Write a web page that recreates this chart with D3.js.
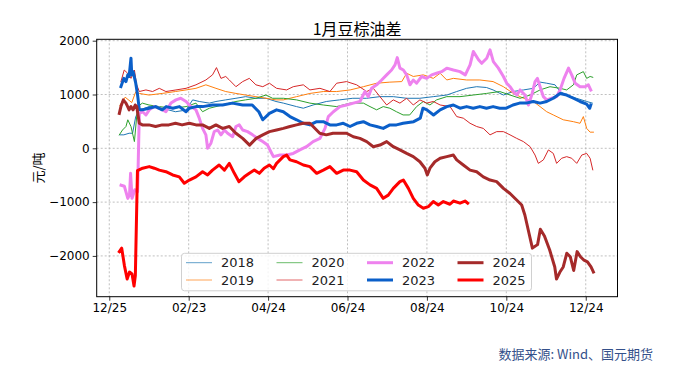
<!DOCTYPE html>
<html>
<head>
<meta charset="utf-8">
<script src="https://cdn.jsdelivr.net/npm/d3@7"></script>
<style>
  body { margin: 0; background: #fff; }
  text { font-family: "DejaVu Sans", sans-serif; }
  .cjk { font-family: "Noto Sans CJK SC", sans-serif; }
</style>
</head>
<body>
<div id="chart"></div>
<script>
// x = days after 12/25, y = spread (元/吨)
var tickDays = [0, 60, 120, 180, 240, 300, 360]
var tickLabels = ["12/25", "02/23", "04/24", "06/24", "08/24", "10/24", "12/24"]
var yTicks = [-2000, -1000, 0, 1000, 2000]

var s2018 = [[8,250],[11,250],[15,280],[17.6,280],[20,590],[22.7,710],[30,775],[40,745],[50,680],[58,710],[63,900],[68,870],[75.6,840],[80.6,870],[88,900],[95.7,930],[103,960],[110.8,930],[118.4,930],[126,870],[131.5,840],[141.5,775],[146.6,745],[154,805],[164,870],[174,900],[184,930],[194.5,930],[204.5,960],[214.6,960],[224.7,930],[234.7,930],[244.8,960],[255,990],[262.5,1055],[270,1115],[277.6,1145],[285,1130],[290,1085],[297.8,990],[305,1055],[313,1085],[320.4,1115],[325.5,1230],[330.5,1210],[336.8,1180],[340.6,1055],[345.6,990],[353,930],[360.7,870],[365,840]]
var s2019 = [[8,800],[12,950],[17,850],[20,1050],[22.7,1020],[30,990],[40,1020],[50,1055],[58,1085],[65.5,1115],[73,1180],[80.6,1115],[88,1055],[95.7,1020],[103,990],[110.8,960],[118.4,930],[126,900],[131.5,900],[141.5,960],[151.6,1020],[161.7,1055],[171.8,1055],[182,1085],[192,1145],[202,1210],[212,1230],[221,1240],[224.7,1395],[229.7,1335],[237.3,1365],[244.8,1300],[250,1395],[255,1270],[260,1300],[270,1270],[280,1270],[290,1240],[297.8,1145],[305.3,1020],[313,930],[320.4,870],[325.5,775],[330.5,680],[335.5,620],[343,530],[350.7,495],[355.7,465],[358.2,590],[360.7,370],[363.3,300],[365.8,300]]
var s2020 = [[7.6,250],[10,340],[12.6,405],[14,530],[16.4,405],[19,125],[21.4,775],[25,840],[30,805],[37.8,775],[48,745],[58,775],[65.5,840],[70.5,680],[75.6,745],[80.6,775],[85.6,805],[90.7,840],[95.7,870],[103,900],[110.8,930],[118.4,990],[123.4,930],[131.5,930],[141.5,900],[151.6,840],[161.7,805],[171.8,775],[182,840],[192,840],[197,775],[202,715],[207,775],[212,745],[217,680],[222,620],[227,620],[232.2,775],[237.3,870],[242.3,805],[247.3,900],[255,960],[265,960],[275,990],[285,1020],[295,1055],[302.8,990],[310.4,930],[318,990],[325.5,1085],[333,1145],[340.6,1115],[345.6,1085],[350.7,1180],[353.2,1365],[355.7,1395],[358.2,1425],[360.7,1300],[363.3,1335],[365.3,1320]]
var s2021 = [[8.8,1240],[11.3,1455],[13.9,1395],[16.4,1300],[19,1455],[20.7,1180],[22.7,1055],[27.7,1085],[32.7,1055],[37.8,1115],[42.8,1055],[50.4,1085],[58,1115],[65.5,1180],[73,1270],[78,1365],[81,1500],[84.4,1300],[88,1335],[90.7,1270],[95.7,1145],[100.8,1240],[105.8,1300],[110.8,1180],[116,1145],[121,1210],[126.4,1115],[134,1085],[139,1145],[146.6,1180],[151.6,1085],[159.2,1115],[166.7,1055],[171.8,1210],[179.3,1240],[186.9,1180],[194.5,1055],[199.5,1115],[204.5,960],[209.6,805],[214.6,900],[219.6,840],[224.7,930],[229.7,805],[234.7,900],[239.8,840],[244.8,870],[250,805],[257.5,775],[262.5,590],[267.5,560],[272.6,465],[277.6,405],[282.6,370],[287.7,250],[292.7,310],[297.8,310],[302.8,250],[307.8,185],[312.9,125],[318,30],[321.7,-125],[324.2,-280],[328,-215],[331.8,-30],[335.5,-95],[338,-280],[341.8,-185],[345.6,-155],[349.4,-185],[353.2,-280],[357,-125],[360.7,-95],[363.3,-185],[365.3,-400]]
var s2022 = [[8.9,-685],[11.4,-705],[14,-930],[15.3,-865],[16.1,-465],[17.2,-930],[19.3,-770],[21.4,-805],[22.7,650],[25.2,680],[27.7,620],[30.2,715],[34,775],[37.8,745],[42.8,680],[46.6,840],[50.4,900],[54,930],[58,870],[61.7,775],[65.5,715],[68,560],[70.5,370],[73,250],[74.3,0],[76.8,95],[79.3,310],[81.9,340],[84.4,250],[87,340],[89.4,280],[93.2,215],[95.7,405],[98.2,435],[100.8,340],[104.5,310],[108.3,250],[112,185],[115.9,125],[119.6,60],[122,-60],[124,-155],[129,-125],[134,-125],[139,-95],[144,-30],[149,30],[154,125],[159.2,185],[163,370],[165.5,590],[169.3,680],[174.3,775],[179.3,805],[184.4,840],[189.4,870],[193.2,1055],[195.7,960],[198.2,1115],[202,1180],[205.8,1270],[209.6,1365],[213.3,1455],[215.9,1550],[217.6,1685],[219.6,1490],[222.2,1455],[224.7,1365],[227.2,1180],[229.7,1270],[232.2,1210],[236,1335],[239.8,1300],[243.6,1365],[247.3,1395],[251.1,1425],[255,1490],[260,1455],[265,1425],[269,1365],[272.6,1550],[275.1,1800],[279,1645],[281.4,1580],[285.2,1675],[287.7,1830],[290.2,1610],[294,1490],[297.8,1335],[300.3,1210],[302.8,1145],[305.3,1055],[308,990],[310.4,1085],[314.1,990],[316.7,805],[319.2,990],[321.7,1240],[323.5,1300],[325.5,1145],[328,960],[330.5,900],[334.3,930],[338,960],[340.6,1085],[343.6,1300],[347,1490],[349.4,1365],[352,1210],[355.7,1145],[359.5,1145],[362,1180],[363.8,1085]]
var s2023 = [[8.8,1145],[11,1300],[12.6,1240],[14,1365],[15,1335],[16.4,1675],[17,1365],[18,1425],[20,1210],[21.4,990],[22.7,715],[25,715],[30,745],[35,775],[40,715],[43,775],[48,745],[53,775],[58,680],[60.5,745],[65.5,775],[70.5,775],[78,805],[85.6,805],[93,840],[100.8,805],[108,805],[113,680],[116,530],[121,650],[126.4,715],[131.5,680],[136.5,590],[141.5,530],[146.6,465],[151.6,435],[156.7,495],[161.7,495],[166.7,435],[171.8,435],[176.8,465],[181.9,405],[186.9,465],[192,495],[197,435],[202,405],[207,370],[212,435],[217,435],[222,465],[230,495],[235,560],[237,745],[240,715],[245,620],[250,715],[255,775],[260,805],[265,745],[270,775],[275,745],[280,775],[285,745],[290,775],[295,745],[300,745],[305,805],[310,840],[315,840],[320.4,870],[325.5,840],[330.5,870],[335.5,930],[340.6,1020],[345.6,990],[350.7,930],[355.7,870],[360.7,820],[363,745],[363.8,805]]
var s2024 = [[7.6,650],[8.8,775],[10.6,900],[12.6,840],[13.9,775],[15,715],[16.4,775],[18,715],[19.6,805],[20.7,780],[22.7,465],[25,435],[30,435],[35,405],[40,435],[45,435],[50,465],[55,435],[60.5,465],[65.5,435],[70.5,435],[75.6,370],[80.6,435],[85.6,370],[90.7,405],[95.7,280],[100.8,185],[106,60],[111,185],[116,250],[121,310],[126.4,340],[131.5,370],[136.5,405],[141.5,435],[146.6,465],[151.6,465],[154,405],[159,280],[164,250],[169,280],[174,280],[179.3,280],[184.4,215],[189.4,185],[194.5,125],[199.5,30],[204.5,60],[209.6,125],[214.6,30],[219.6,-30],[224.7,-95],[229.7,-155],[234.7,-250],[238.5,-370],[240.3,-495],[242.3,-370],[246,-250],[250,-185],[255,-155],[260,-125],[262.5,-215],[267.5,-310],[272.6,-405],[277.6,-435],[282.6,-530],[287.7,-590],[292.7,-620],[297.8,-745],[302.8,-840],[307.8,-960],[311.6,-1055],[314,-1240],[317,-1565],[319.7,-1855],[323.6,-1790],[325.7,-1505],[328.8,-1630],[332.7,-1885],[336.6,-2205],[337.9,-2430],[340.5,-2300],[343,-2205],[345.7,-1950],[348.3,-2015],[350.9,-2270],[353.5,-1920],[356,-2015],[358.7,-2080],[361.3,-2110],[364,-2205],[365.8,-2300]]
var s2025 = [[7.6,-1920],[9.4,-1855],[11.4,-2175],[13.5,-2430],[15.3,-2300],[17.2,-2335],[18.7,-2560],[19.7,-2365],[21.3,-415],[25.2,-370],[30.2,-340],[34,-370],[37.8,-405],[42.8,-435],[47.9,-495],[52.9,-530],[56.7,-650],[60.5,-590],[65.5,-530],[70.5,-435],[74.3,-495],[78,-405],[83,-310],[87,-405],[90.7,-280],[94.5,-465],[98,-620],[102,-530],[105.8,-465],[109.6,-405],[113.4,-465],[117,-370],[121,-310],[124,-380],[126.4,-280],[131.5,-155],[134,-125],[136.5,-215],[141.5,-250],[146.6,-310],[151.6,-340],[156.7,-465],[161.7,-405],[166.7,-340],[171.8,-465],[176.8,-405],[181.9,-405],[186.9,-435],[192,-590],[197,-680],[202,-745],[207,-930],[210.8,-870],[214.6,-745],[219.6,-620],[222.2,-590],[226,-745],[229.7,-930],[233.5,-1055],[237.3,-1115],[241,-1085],[244.8,-990],[248.6,-1055],[252.4,-990],[257.4,-1040],[260,-980],[265,-1020],[268.8,-980],[270.8,-1020]]

var years = ["2018", "2019", "2020", "2021", "2022", "2023", "2024", "2025"]
var seriesData = [s2018, s2019, s2020, s2021, s2022, s2023, s2024, s2025]
var colors = ["#1f77b4", "#ff7f0e", "#2ca02c", "#d62728", "#ee82ee", "#0b5fc9", "#a52a2a", "#ff0000"]
var widths = [1, 1, 1, 1, 3, 3, 3, 3]

var W = 684, H = 385
var margin = {top: 39.3, right: 66.5, bottom: 88.3, left: 96.7}
var width = W - margin.left - margin.right,
    height = H - margin.top - margin.bottom

var svg = d3.select("#chart").append("svg")
    .attr("width", W).attr("height", H)

var g = svg.append("g")
    .attr("transform", "translate(" + margin.left + "," + margin.top + ")")

var x = d3.scaleLinear().domain([-9.5, 384]).range([0, width])
var y = d3.scaleLinear().domain([-2758, 2026]).range([height, 0])

// grid
g.append("g").selectAll("line").data(tickDays).enter().append("line")
  .attr("x1", function(d) { return x(d) }).attr("x2", function(d) { return x(d) })
  .attr("y1", 0).attr("y2", height)
  .attr("stroke", "#b0b0b0").attr("stroke-width", 0.8).attr("stroke-dasharray", "2,2")
g.append("g").selectAll("line").data(yTicks).enter().append("line")
  .attr("y1", function(d) { return y(d) }).attr("y2", function(d) { return y(d) })
  .attr("x1", 0).attr("x2", width)
  .attr("stroke", "#b0b0b0").attr("stroke-width", 0.8).attr("stroke-dasharray", "2,2")

// lines
var line = d3.line()
  .x(function(d) { return x(d[0]) })
  .y(function(d) { return y(d[1]) })

g.append("g").selectAll("path").data(seriesData).enter().append("path")
  .attr("d", line)
  .attr("fill", "none")
  .attr("stroke", function(d, i) { return colors[i] })
  .attr("stroke-width", function(d, i) { return widths[i] })
  .attr("stroke-linejoin", "round")
  .attr("stroke-linecap", "square")

// axes
var xAxis = d3.axisBottom(x).tickValues(tickDays)
  .tickFormat(function(d, i) { return tickLabels[i] })
  .tickSize(4).tickPadding(3)
var yAxis = d3.axisLeft(y).tickValues(yTicks)
  .tickFormat(function(d) { return d < 0 ? "\u2212" + Math.abs(d) : d })
  .tickSize(4).tickPadding(3)

var gx = g.append("g").attr("transform", "translate(0," + height + ")").call(xAxis)
var gy = g.append("g").call(yAxis)
;[gx, gy].forEach(function(a) {
  a.select(".domain").remove()
  a.selectAll("text").attr("font-size", 12).attr("fill", "#000").style("font-family", "DejaVu Sans")
  a.selectAll("line").attr("stroke", "#000").attr("stroke-width", 0.8)
})

g.append("rect").attr("width", width).attr("height", height)
  .attr("fill", "none").attr("stroke", "#000").attr("stroke-width", 1)

// legend
var leg = svg.append("g").attr("transform", "translate(181.5,253.3)")
leg.append("rect").attr("width", 350).attr("height", 37.5)
  .attr("rx", 3).attr("fill", "#fff").attr("fill-opacity", 0.8)
  .attr("stroke", "#d0d0d0").attr("stroke-width", 1)
var items = leg.selectAll(".item").data(years).enter().append("g")
  .attr("transform", function(d, i) {
    var col = Math.floor(i / 2), row = i % 2
    return "translate(" + (4.5 + col * 90.5) + "," + (9.4 + row * 17.3) + ")"
  })
items.append("line").attr("x1", 0).attr("x2", 26).attr("y1", 0).attr("y2", 0)
  .attr("stroke", function(d, i) { return colors[i] })
  .attr("stroke-width", function(d, i) { return widths[i] })
  .attr("stroke-opacity", function(d, i) { return widths[i] < 2 ? 0.7 : 1 })
items.append("text").attr("x", 35).attr("y", 0).attr("dy", "0.36em")
  .attr("font-size", 13).attr("fill", "#222").text(function(d) { return d })

// title and labels
svg.append("text").attr("class", "cjk")
  .attr("x", margin.left + width / 2).attr("y", 29).attr("dy", "0.35em")
  .attr("text-anchor", "middle").attr("font-size", 16).attr("fill", "#000")
  .text("1月豆棕油差")

svg.append("text").attr("class", "cjk")
  .attr("transform", "translate(38," + (margin.top + height / 2) + ") rotate(-90)")
  .attr("text-anchor", "middle").attr("dy", "0.35em")
  .attr("font-size", 13).attr("fill", "#000")
  .text("元/吨")

svg.append("text").attr("class", "cjk")
  .attr("x", 653).attr("y", 354).attr("dy", "0.35em")
  .attr("text-anchor", "end").attr("font-size", 13).attr("fill", "#34508a")
  .text("数据来源: Wind、国元期货")
</script>
</body>
</html>
